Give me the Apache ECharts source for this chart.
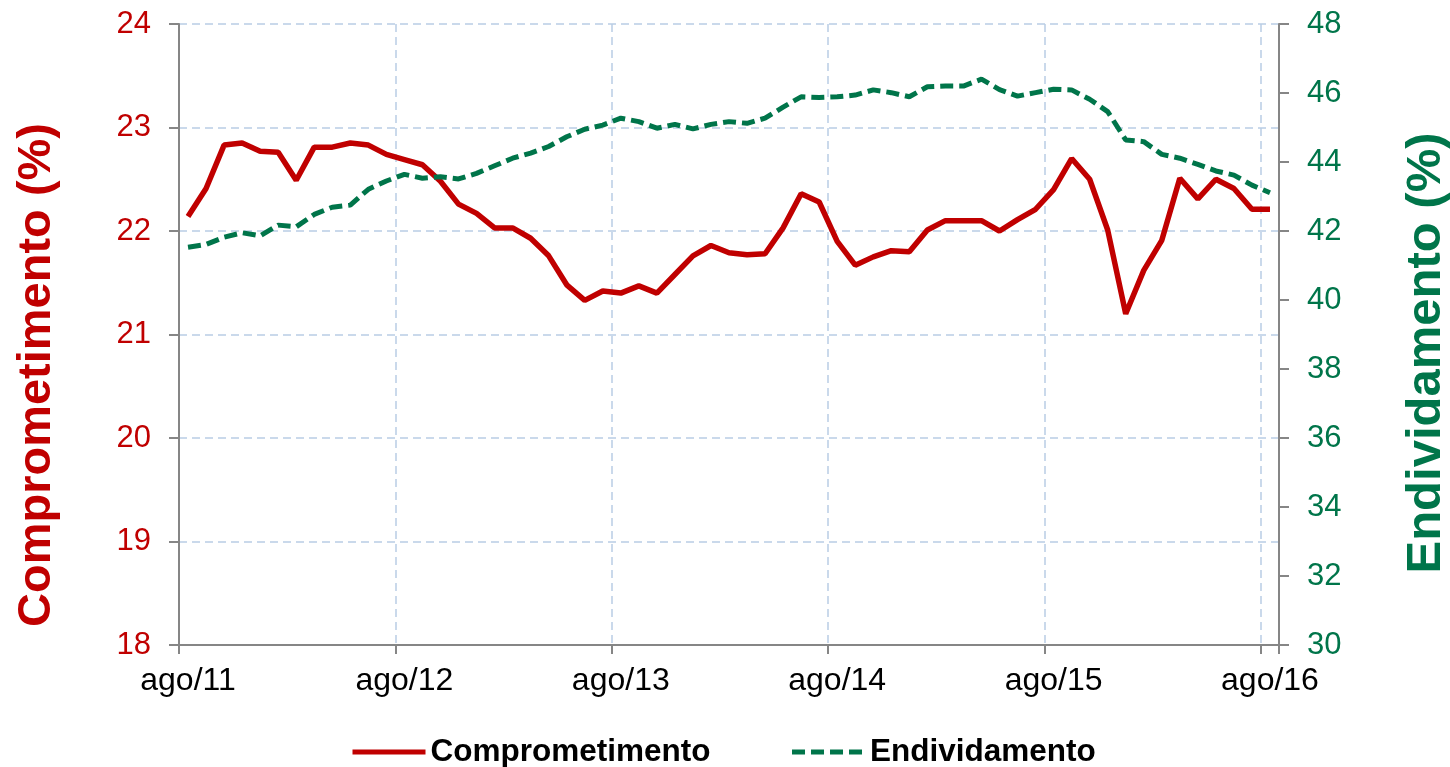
<!DOCTYPE html>
<html>
<head>
<meta charset="utf-8">
<script src="https://cdn.jsdelivr.net/npm/echarts@6/dist/echarts.min.js"></script>
<style>
html,body{margin:0;padding:0;background:#fff;}
#main{width:1450px;height:767px;}
</style>
</head>
<body>
<div id="main"></div>
<script>
// meses de ago/11 a ago/16
var meses = ['jan','fev','mar','abr','mai','jun','jul','ago','set','out','nov','dez'];
var categorias = [];
for (var i = 0; i < 61; i++) {
    var m = (7 + i) % 12;
    var a = 11 + Math.floor((7 + i) / 12);
    categorias.push(meses[m] + '/' + a);
}

// Comprometimento (%) - eixo esquerdo
var comprometimento = [
    22.14, 22.41, 22.83, 22.85, 22.77, 22.76, 22.49, 22.81, 22.81, 22.85,
    22.83, 22.74, 22.69, 22.64, 22.48, 22.26, 22.17, 22.03, 22.03, 21.93,
    21.76, 21.48, 21.33, 21.42, 21.40, 21.47, 21.40, 21.58, 21.76, 21.86,
    21.79, 21.77, 21.78, 22.03, 22.36, 22.28, 21.90, 21.67, 21.75, 21.81,
    21.80, 22.01, 22.10, 22.10, 22.10, 22.00, 22.11, 22.21, 22.40, 22.70,
    22.50, 22.01, 21.20, 21.62, 21.91, 22.51, 22.31, 22.50, 22.41, 22.21,
    22.21
];

// Endividamento (%) - eixo direito
var endividamento = [
    41.53, 41.61, 41.82, 41.95, 41.86, 42.17, 42.12, 42.48, 42.69, 42.75,
    43.21, 43.45, 43.64, 43.53, 43.57, 43.51, 43.67, 43.89, 44.11, 44.26,
    44.45, 44.73, 44.95, 45.07, 45.27, 45.17, 44.98, 45.09, 44.96, 45.09,
    45.17, 45.12, 45.27, 45.59, 45.89, 45.87, 45.89, 45.94, 46.09, 46.01,
    45.89, 46.18, 46.20, 46.20, 46.40, 46.10, 45.91, 46.01, 46.11, 46.09,
    45.82, 45.46, 44.64, 44.59, 44.22, 44.11, 43.93, 43.74, 43.62, 43.33,
    43.11
];

var fonte = 'Liberation Sans, Arial, sans-serif';
var vermelho = '#c00000';
var verde = '#00754a';
var cinza = '#868686';
var grade = '#b9cde5';

var chart = echarts.init(document.getElementById('main'));

var option = {
    backgroundColor: '#fff',
    animation: false,
    grid: {
        left: 179,
        right: 171,
        top: 24,
        bottom: 122
    },
    legend: {
        left: 345,
        top: 731,
        itemWidth: 73,
        itemHeight: 14,
        itemGap: 79,
        itemStyle: {color: 'rgba(0,0,0,0)', opacity: 0, borderWidth: 0},
        lineStyle: {width: 5},
        textStyle: {
            fontFamily: fonte,
            fontSize: 31.5,
            fontWeight: 'bold',
            color: '#000'
        },
        data: ['Comprometimento', 'Endividamento']
    },
    xAxis: {
        type: 'category',
        data: categorias,
        boundaryGap: true,
        axisLine: {lineStyle: {color: cinza, width: 2}},
        axisTick: {show: true, interval: 11, length: 9, lineStyle: {color: cinza, width: 2}},
        axisLabel: {
            interval: 11,
            margin: 20,
            color: '#000',
            fontFamily: fonte,
            fontSize: 32
        },
        splitLine: {
            show: true,
            interval: 11,
            lineStyle: {color: grade, width: 1.5, type: [8, 5]}
        }
    },
    yAxis: [
        {
            type: 'value',
            min: 18,
            max: 24,
            interval: 1,
            axisLine: {show: true, lineStyle: {color: cinza, width: 2}},
            axisTick: {show: true, length: 10, lineStyle: {color: cinza, width: 2}},
            axisLabel: {margin: 28, color: vermelho, fontFamily: fonte, fontSize: 31},
            splitLine: {show: true, lineStyle: {color: grade, width: 1.5, type: [8, 5]}}
        },
        {
            type: 'value',
            position: 'right',
            min: 30,
            max: 48,
            interval: 2,
            axisLine: {show: true, lineStyle: {color: cinza, width: 2}},
            axisTick: {show: true, length: 10, lineStyle: {color: cinza, width: 2}},
            axisLabel: {margin: 28, color: verde, fontFamily: fonte, fontSize: 31},
            splitLine: {show: false}
        }
    ],
    graphic: [
        {
            type: 'text',
            x: 37,
            y: 375,
            rotation: Math.PI / 2,
            style: {
                text: 'Comprometimento (%)',
                fill: vermelho,
                font: 'bold 47px ' + fonte,
                align: 'center',
                verticalAlign: 'middle'
            }
        },
        {
            type: 'text',
            x: 1426,
            y: 353,
            rotation: Math.PI / 2,
            style: {
                text: 'Endividamento (%)',
                fill: verde,
                font: 'bold 49px ' + fonte,
                align: 'center',
                verticalAlign: 'middle'
            }
        }
    ],
    series: [
        {
            name: 'Comprometimento',
            type: 'line',
            yAxisIndex: 0,
            data: comprometimento,
            symbol: 'none',
            itemStyle: {color: vermelho},
            lineStyle: {color: vermelho, width: 5.5}
        },
        {
            name: 'Endividamento',
            type: 'line',
            yAxisIndex: 1,
            data: endividamento,
            symbol: 'none',
            itemStyle: {color: verde},
            lineStyle: {color: verde, width: 5, type: [13, 6]}
        }
    ]
};

chart.setOption(option);
</script>
</body>
</html>
